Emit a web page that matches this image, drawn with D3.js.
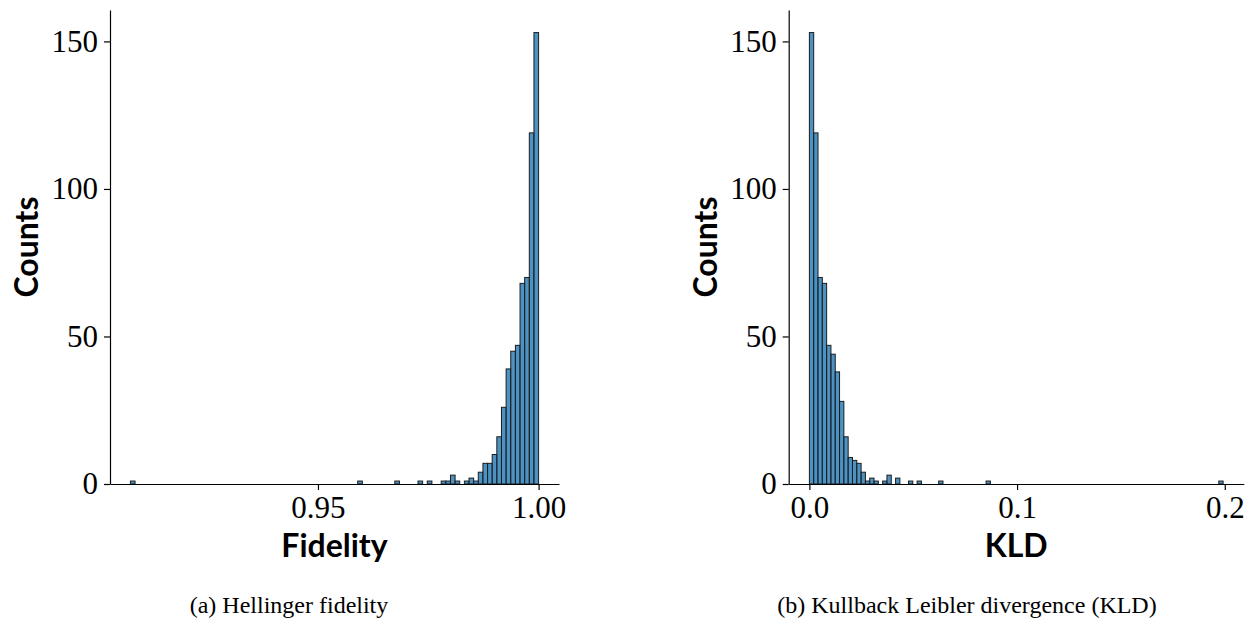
<!DOCTYPE html>
<html>
<head>
<meta charset="utf-8">
<script src="https://cdn.jsdelivr.net/npm/d3@7"></script>
<style>
	body { margin: 0; background: #fff; }
	svg text { fill: #000; }
	.tick text { font-family: "Liberation Serif", serif; font-size: 31px; }
	.axislabel { font-family: Lato, "Open Sans", sans-serif; font-weight: bold; font-size: 32px; }
	.caption { font-family: "Liberation Serif", serif; font-size: 24px; }
	.bar { fill: #1f77b4; fill-opacity: 0.8; stroke: #1c1c1c; stroke-width: 1; }
	.domain, .tick line { stroke: #000; stroke-width: 1.2; }
</style>
</head>
<body>
<div id="chart"></div>
<script>
// Hellinger fidelity histogram: 88 bins between fidelityMin and fidelityMax
const fidelityMin = 0.9075, fidelityMax = 1.0;
const fidelityCounts = [
	1, 0, 0, 0, 0, 0, 0, 0, 0, 0,
	0, 0, 0, 0, 0, 0, 0, 0, 0, 0,
	0, 0, 0, 0, 0, 0, 0, 0, 0, 0,
	0, 0, 0, 0, 0, 0, 0, 0, 0, 0,
	0, 0, 0, 0, 0, 0, 0, 0, 0, 1,
	0, 0, 0, 0, 0, 0, 0, 1, 0, 0,
	0, 0, 1, 0, 1, 0, 0, 1, 1, 3,
	1, 0, 1, 2, 1, 4, 7, 7, 10, 16,
	26, 39, 45, 47, 68, 70, 119, 153
];
const fidelityTicks = [0.95, 1.00];
const fidelityTickLabels = ["0.95", "1.00"];

// KLD histogram: 96 bins between kldMin and kldMax
const kldMin = 0.0, kldMax = 0.1992;
const kldCounts = [
	153, 119, 70, 68, 47, 44, 38, 28, 16, 9,
	8, 7, 4, 1, 2, 1, 0, 1, 3, 0,
	2, 0, 0, 1, 0, 1, 0, 0, 0, 0,
	1, 0, 0, 0, 0, 0, 0, 0, 0, 0,
	0, 1, 0, 0, 0, 0, 0, 0, 0, 0,
	0, 0, 0, 0, 0, 0, 0, 0, 0, 0,
	0, 0, 0, 0, 0, 0, 0, 0, 0, 0,
	0, 0, 0, 0, 0, 0, 0, 0, 0, 0,
	0, 0, 0, 0, 0, 0, 0, 0, 0, 0,
	0, 0, 0, 0, 0, 1
];
const kldTicks = [0.0, 0.1, 0.2];
const kldTickLabels = ["0.0", "0.1", "0.2"];

const countTicks = [0, 50, 100, 150];

class Histogram {
	svg; chart; bars; axisX; axisY; labelX; labelY; caption;
	scaleX; scaleY; data;

	/*
	- svg: parent svg selection
	- box: [left, top, right, bottom] of the plot area in pixels
	*/
	constructor(svg, box) {
		this.svg = svg;
		this.box = box;
		this.chart = svg.append("g");
		this.bars = this.chart.selectAll("rect.bar");
		this.axisX = svg.append("g").attr("transform", `translate(0, ${box[3]})`);
		this.axisY = svg.append("g").attr("transform", `translate(${box[0]}, 0)`);
		this.labelX = svg.append("text").classed("axislabel", true)
			.attr("x", (box[0] + box[2]) / 2).attr("y", box[3] + 73)
			.style("text-anchor", "middle");
		this.labelY = svg.append("text").classed("axislabel", true)
			.attr("transform", `translate(${box[0] - 72}, ${(box[1] + box[3]) / 2})rotate(-90)`)
			.style("text-anchor", "middle");
		this.caption = svg.append("text").classed("caption", true)
			.style("text-anchor", "middle");
	}

	// counts: equal width bins from lo to hi
	render(counts, lo, hi, ticks, tickLabels) {
		let w = (hi - lo) / counts.length;
		this.data = counts.map((c, i) => ({ x0: lo + i * w, x1: lo + (i + 1) * w, n: c }));

		// matplotlib style 5% margins
		let pad = (hi - lo) * 0.05;
		this.scaleX = d3.scaleLinear([lo - pad, hi + pad], [this.box[0], this.box[2]]);
		this.scaleY = d3.scaleLinear([0, d3.max(counts) * 1.05], [this.box[3], this.box[1]]);

		this.bars = this.bars
			.data(this.data.filter((d) => d.n > 0))
			.join("rect")
			.classed("bar", true)
			.attr("x", (d) => this.scaleX(d.x0))
			.attr("y", (d) => this.scaleY(d.n))
			.attr("width", (d) => this.scaleX(d.x1) - this.scaleX(d.x0))
			.attr("height", (d) => this.scaleY(0) - this.scaleY(d.n));

		this.axisX.call(d3.axisBottom(this.scaleX)
			.tickValues(ticks).tickFormat((d, i) => tickLabels[i])
			.tickSize(6).tickPadding(6).tickSizeOuter(0));
		this.axisY.call(d3.axisLeft(this.scaleY)
			.tickValues(countTicks).tickFormat(d3.format("d"))
			.tickSize(6).tickPadding(6).tickSizeOuter(0));
		this.svg.selectAll(".tick text").attr("font-family", null).attr("font-size", null);
		return this;
	}

	setLabels(labelX, labelY, caption, captionX) {
		this.labelX.text(labelX);
		this.labelY.text(labelY);
		this.caption.attr("x", captionX).attr("y", 613).text(caption);
		return this;
	}
}

const svg = d3.select("#chart").append("svg").attr("width", 1247).attr("height", 618);

new Histogram(svg, [110, 10, 559, 484])
	.render(fidelityCounts, fidelityMin, fidelityMax, fidelityTicks, fidelityTickLabels)
	.setLabels("Fidelity", "Counts", "(a) Hellinger fidelity", 289);

new Histogram(svg, [788.7, 10, 1243.8, 484])
	.render(kldCounts, kldMin, kldMax, kldTicks, kldTickLabels)
	.setLabels("KLD", "Counts", "(b) Kullback Leibler divergence (KLD)", 967);
</script>
</body>
</html>
